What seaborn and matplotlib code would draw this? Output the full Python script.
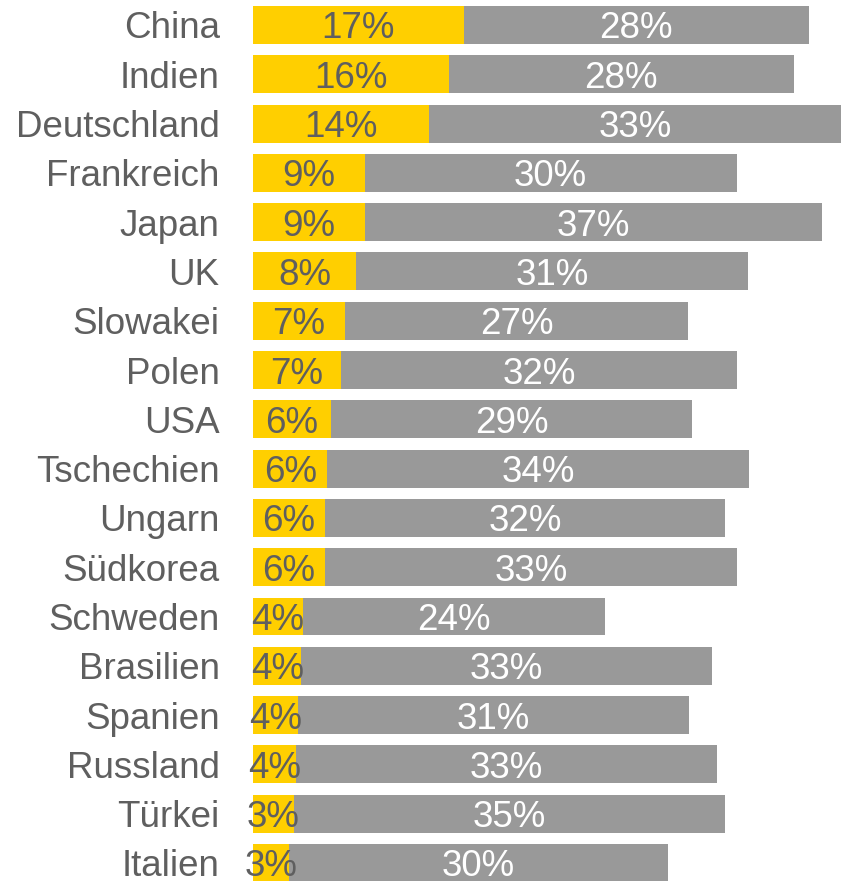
import matplotlib
matplotlib.use("Agg")
import matplotlib.pyplot as plt
import seaborn as sns
import pandas as pd

countries = ["China", "Indien", "Deutschland", "Frankreich", "Japan", "UK", "Slowakei",
             "Polen", "USA", "Tschechien", "Ungarn", "Südkorea", "Schweden", "Brasilien",
             "Spanien", "Russland", "Türkei", "Italien"]
yellow_vals = [17.0, 15.8, 14.2, 9.0, 9.0, 8.3, 7.4, 7.1, 6.3, 6.0, 5.8, 5.8, 4.0, 3.9,
               3.6, 3.5, 3.3, 2.9]
gray_vals = [27.8, 27.8, 33.2, 30.0, 36.9, 31.6, 27.7, 31.9, 29.1, 34.0, 32.3, 33.2, 24.4,
             33.1, 31.6, 33.9, 34.8, 30.6]
yellow_labels = ["17%", "16%", "14%", "9%", "9%", "8%", "7%", "7%", "6%", "6%", "6%", "6%",
                 "4%", "4%", "4%", "4%", "3%", "3%"]
gray_labels = ["28%", "28%", "33%", "30%", "37%", "31%", "27%", "32%", "29%", "34%", "32%",
               "33%", "24%", "33%", "31%", "33%", "35%", "30%"]

YELLOW = "#FFCF00"
GRAY = "#999999"
TEXT = "#5F5F5F"

df = pd.DataFrame({"country": countries, "yellow": yellow_vals, "gray": gray_vals})
df["total"] = df["yellow"] + df["gray"]

sns.set_theme(style="white")
plt.rcParams["font.family"] = ["Liberation Sans", "DejaVu Sans"]

W, H = 841, 881
fig = plt.figure(figsize=(W / 100, H / 100), dpi=100)
ax = fig.add_axes([253 / W, 1 - 887.6 / H, (W - 253) / W, 887.25 / H])

sns.barplot(data=df, y="country", x="total", color=GRAY, orient="h", width=0.77,
            saturation=1, ax=ax, order=countries, linewidth=0)
sns.barplot(data=df, y="country", x="yellow", color=YELLOW, orient="h", width=0.77,
            saturation=1, ax=ax, order=countries, linewidth=0)

fs = 26.5
for i, (y, g, yl, gl) in enumerate(zip(yellow_vals, gray_vals, yellow_labels, gray_labels)):
    ax.text(y / 2, i, yl, ha="center", va="center_baseline", fontsize=fs, color=TEXT)
    ax.text(y + g / 2, i, gl, ha="center", va="center_baseline", fontsize=fs, color="white")

ax.set_xlim(0, (W - 253) / 12.4)
ax.set_ylim(len(countries) - 0.5, -0.5)
ax.set_xlabel("")
ax.set_ylabel("")
ax.set_xticks([])
ax.tick_params(axis="y", length=0, pad=24, labelsize=fs, labelcolor=TEXT)
for s in ax.spines.values():
    s.set_visible(False)

fig.savefig("out.png", dpi=100)
